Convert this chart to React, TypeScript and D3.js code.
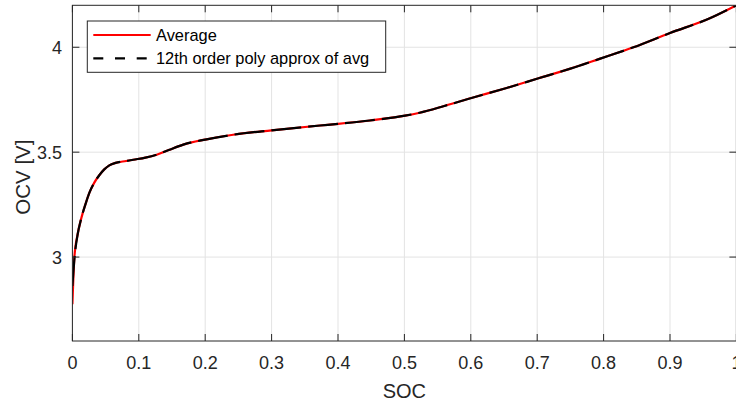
import React from "react";
import * as d3 from "d3";

const soc = [0, 0.003, 0.008, 0.013, 0.02, 0.0255, 0.033, 0.0405, 0.048, 0.0556, 0.065, 0.081, 0.0917, 0.11, 0.127, 0.145, 0.167, 0.2, 0.242, 0.3, 0.373, 0.4, 0.448, 0.501, 0.523, 0.56, 0.601, 0.654, 0.702, 0.75, 0.795, 0.845, 0.9, 0.96, 1.0];
const avgOcv = [2.775, 3.0, 3.11, 3.18, 3.255, 3.306, 3.355, 3.39, 3.418, 3.437, 3.449, 3.458, 3.464, 3.474, 3.488, 3.51, 3.536, 3.56, 3.583, 3.604, 3.627, 3.635, 3.651, 3.674, 3.688, 3.72, 3.758, 3.806, 3.852, 3.898, 3.946, 4.0, 4.068, 4.138, 4.2];
const polyOcv = [2.862, 2.99, 3.11, 3.18, 3.255, 3.306, 3.355, 3.39, 3.418, 3.437, 3.449, 3.458, 3.464, 3.474, 3.488, 3.51, 3.536, 3.56, 3.583, 3.604, 3.627, 3.635, 3.651, 3.674, 3.688, 3.72, 3.758, 3.806, 3.852, 3.898, 3.946, 4.0, 4.068, 4.138, 4.2];
const xTicks = [0, 0.1, 0.2, 0.3, 0.4, 0.5, 0.6, 0.7, 0.8, 0.9, 1];
const yTicks = [3, 3.5, 4];
const legendLabels = ["Average", "12th order poly approx of avg"];

const W = 736, H = 405;
const L = 72.4, R = 736.4, T = 5.3, B = 341;
const axisColor = "#262626";
const gridColor = "#e3e3e3";
const font = "'Liberation Sans', Arial, Helvetica, sans-serif";

export default function App() {
  const x = d3.scaleLinear().domain([0, 1]).range([L, R]);
  const y = d3.scaleLinear().domain([2.6, 4.2]).range([B, T]);
  const line = d3.line<number>().x((_, i) => x(soc[i])).y((d) => y(d)).curve(d3.curveMonotoneX);
  const tickLen = 7;
  return (
    <svg width={W} height={H} style={{ position: "absolute", left: 0, top: 0, background: "#fff" }}>
      <defs>
        <clipPath id="plot">
          <rect x={L} y={T} width={R - L} height={B - T} />
        </clipPath>
      </defs>
      <rect x={0} y={0} width={W} height={H} fill="#fff" />
      {xTicks.map((t) => (
        <line key={"gx" + t} x1={x(t)} x2={x(t)} y1={T} y2={B} stroke={gridColor} strokeWidth={1} />
      ))}
      {yTicks.map((t) => (
        <line key={"gy" + t} x1={L} x2={R} y1={y(t)} y2={y(t)} stroke={gridColor} strokeWidth={1} />
      ))}
      <g clipPath="url(#plot)">
        <path d={line(avgOcv) || ""} fill="none" stroke="#ff0000" strokeWidth={2.2} />
        <path d={line(polyOcv) || ""} fill="none" stroke="#000" strokeWidth={2.2} strokeDasharray="30,7" />
      </g>
      <rect x={L} y={T} width={R - L} height={B - T} fill="none" stroke={axisColor} strokeWidth={1} />
      {xTicks.map((t) => (
        <g key={"tx" + t}>
          <line x1={x(t)} x2={x(t)} y1={B} y2={B - tickLen} stroke={axisColor} />
          <line x1={x(t)} x2={x(t)} y1={T} y2={T + tickLen} stroke={axisColor} />
          <text x={x(t)} y={369} textAnchor="middle" fontFamily={font} fontSize={18} fill={axisColor}>
            {d3.format("~g")(t)}
          </text>
        </g>
      ))}
      {yTicks.map((t) => (
        <g key={"ty" + t}>
          <line x1={L} x2={L + tickLen} y1={y(t)} y2={y(t)} stroke={axisColor} />
          <line x1={R} x2={R - tickLen} y1={y(t)} y2={y(t)} stroke={axisColor} />
          <text x={62} y={y(t)} dy="0.36em" textAnchor="end" fontFamily={font} fontSize={18} fill={axisColor}>
            {d3.format("~g")(t)}
          </text>
        </g>
      ))}
      <text x={(L + R) / 2} y={398} textAnchor="middle" fontFamily={font} fontSize={20} fill={axisColor}>SOC</text>
      <text transform={`translate(30,${(T + B) / 2 + 4}) rotate(-90)`} textAnchor="middle" fontFamily={font} fontSize={20.5} fill={axisColor}>OCV [V]</text>
      <rect x={87.3} y={21} width={298.4} height={51.3} fill="#fff" stroke={axisColor} strokeWidth={1} />
      <line x1={93.3} x2={150.7} y1={35} y2={35} stroke="#ff0000" strokeWidth={2.2} />
      <line x1={93.3} x2={150.7} y1={58.3} y2={58.3} stroke="#000" strokeWidth={2.2} strokeDasharray="10,11.7" />
      {legendLabels.map((lab, i) => (
        <text key={lab} x={156} y={[35, 58.3][i]} dy="0.36em" fontFamily={font} fontSize={16.4} fill="#000">{lab}</text>
      ))}
    </svg>
  );
}
